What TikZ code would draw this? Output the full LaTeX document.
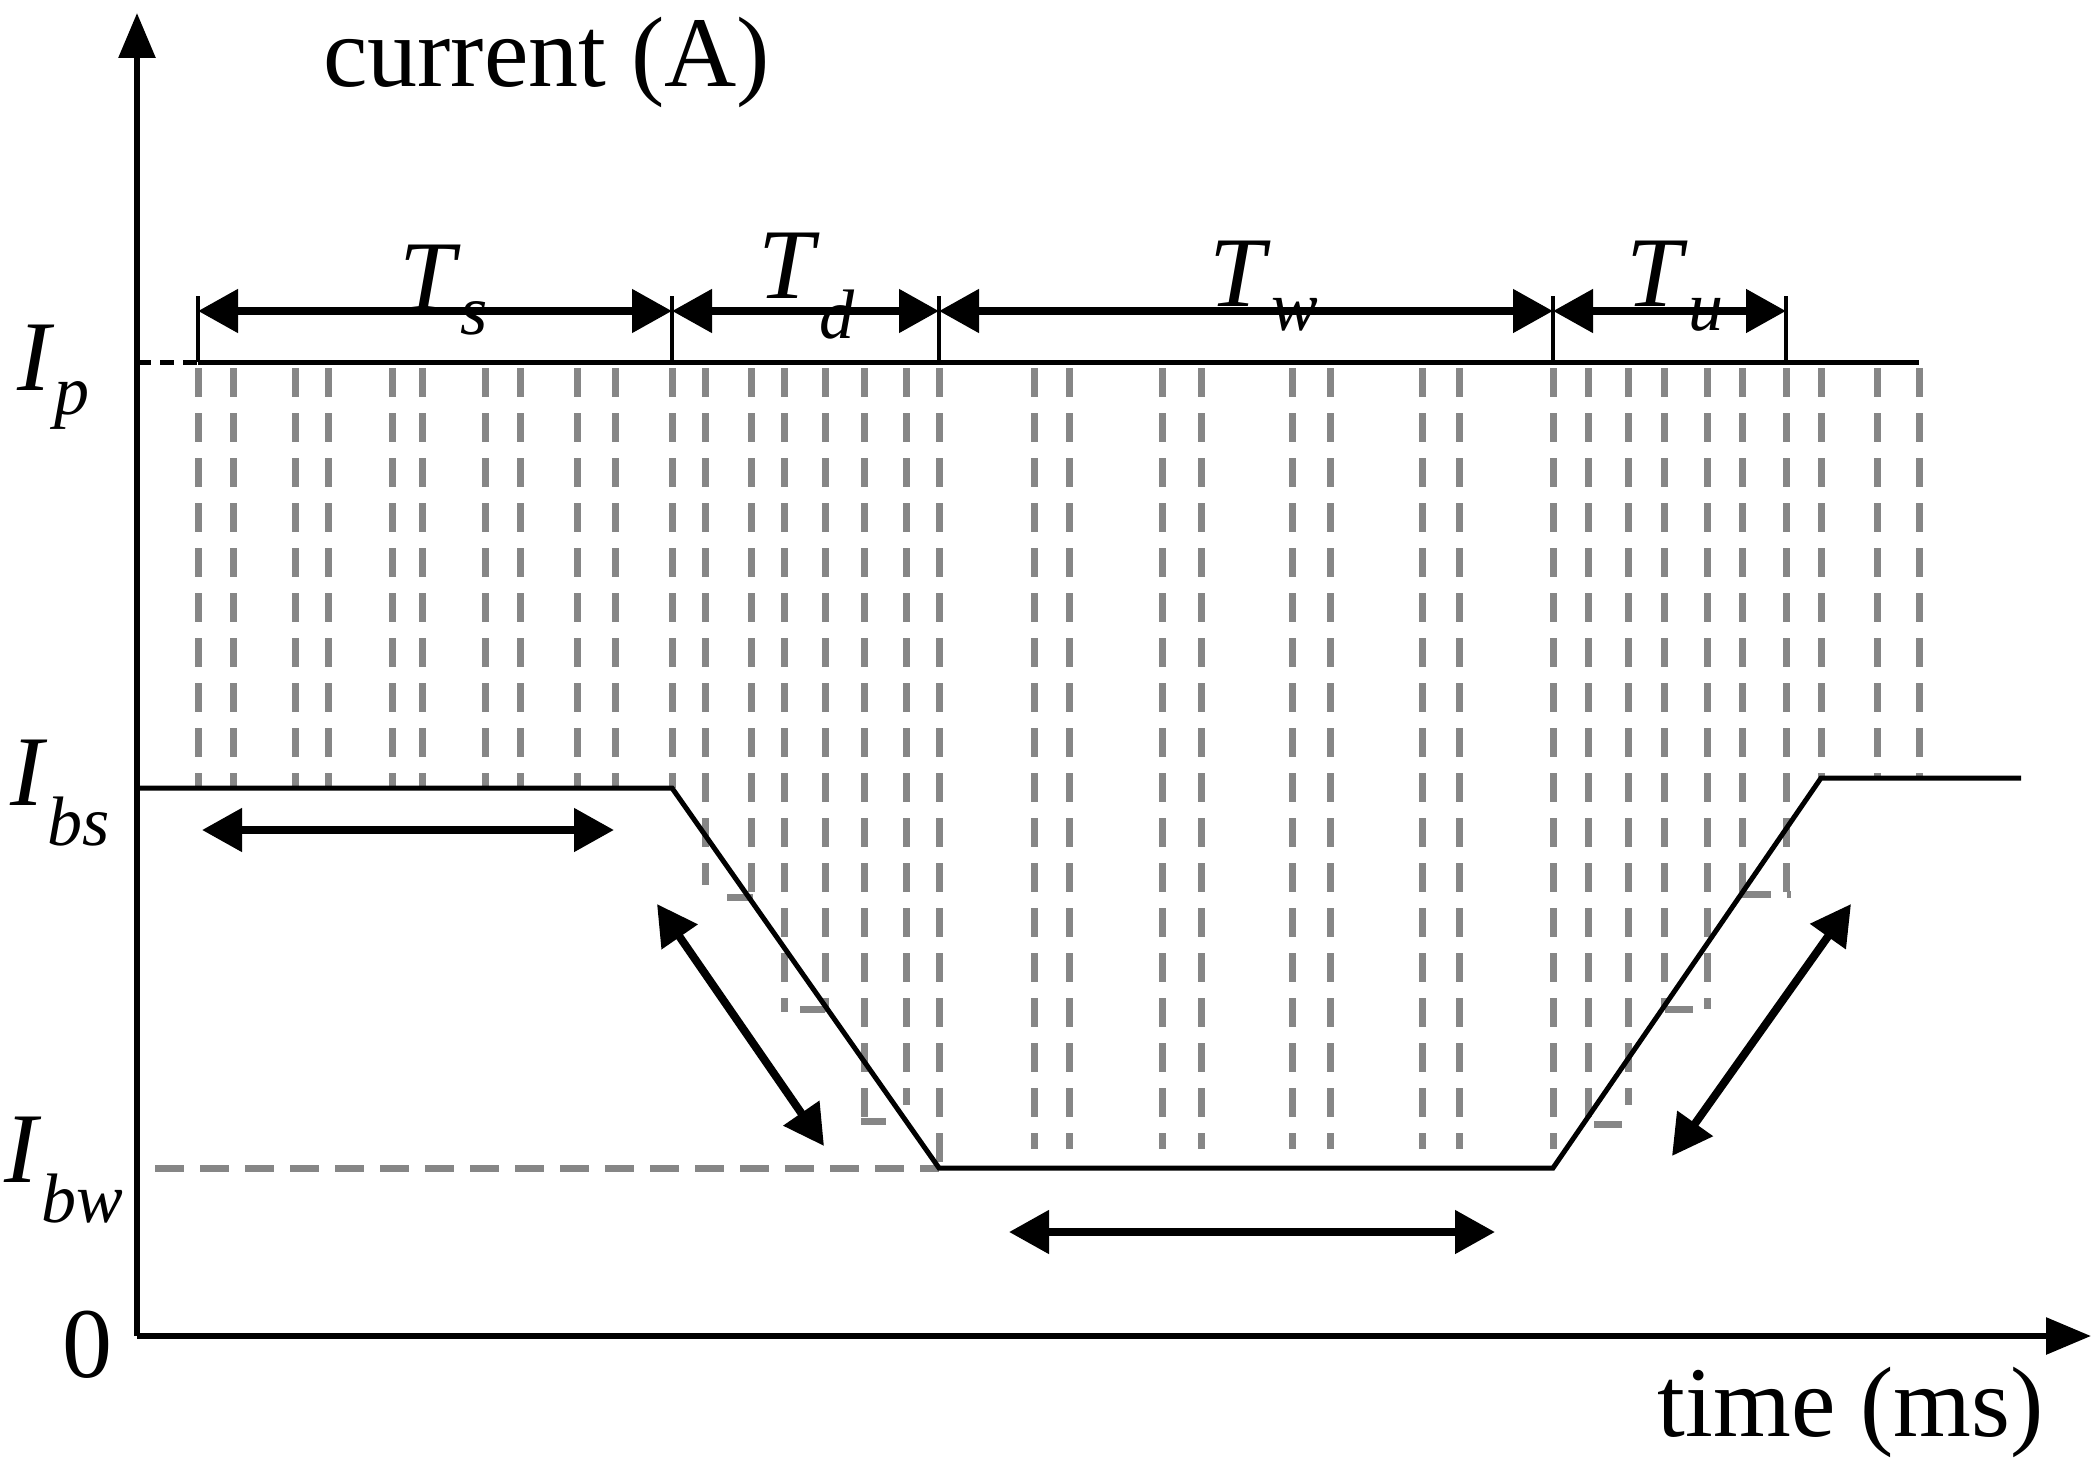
\documentclass[tikz,border=0pt]{standalone}
\usepackage{fontspec}
\setmainfont{Liberation Serif}
\usetikzlibrary{arrows.meta}
\begin{document}
\begin{tikzpicture}[x=1pt,y=-1pt,
  blk/.style={line width=5pt,black},
  gdash/.style={line width=7pt,gray!95,dash pattern=on 29pt off 16pt},
  darr/.style={line width=8pt,{Triangle[length=40pt,width=42pt]}-{Triangle[length=40pt,width=42pt]}},
  lbl/.style={font=\fontsize{100}{110}\selectfont,inner sep=0pt}]
\useasboundingbox (0,0) rectangle (2098,1469);
% axes
\coordinate (O) at (137,1336);
\coordinate (Ytop) at (137,13);
\coordinate (Xend) at (2091,1336);
\draw[line width=6pt,-{Triangle[length=45pt,width=36pt]}] (O) -- (Ytop);
\draw[line width=6pt,-{Triangle[length=45pt,width=36pt]}] (O) -- (Xend);
\node[lbl,anchor=west] (yl) at (323,62) {current (A)};
\node[lbl,anchor=east] (xl) at (2044,1412) {time (ms)};
\node[lbl] (zero) at (87,1345) {0};
\node[lbl] (Ip) at (54,377) {\textit{I}\textsubscript{\textit{p}}};
\node[lbl] (Ibs) at (60,793) {\textit{I}\textsubscript{\textit{bs}}};
\node[lbl] (Ibw) at (64,1170) {\textit{I}\textsubscript{\textit{bw}}};
% grey dashed verticals
\foreach \x/\ye in {198/788,233/788,295/788,328/788,392/788,422/788,485/788,520/788,577/788,615/788,
  672/788,705/885,751/897,784/1012,825/1012,864/1124,906/1105,939/1168,
  1034/1149,1069/1149,1162/1149,1201/1149,1292/1149,1330/1149,1422/1149,1459/1149,
  1553/1149,1588/1124,1628/1105,1664/1009,1707/1009,1742/894,1786/894,1821/780,1877/780,1919/780}
  \draw[gdash] (\x,368) -- (\x,\ye);
\draw[gdash] (727,897) -- (753,897);
\draw[gdash] (800,1009) -- (825,1009);
\draw[gdash] (861,1121) -- (886,1121);
\draw[gdash] (1594,1124) -- (1622,1124);
\draw[gdash] (1665,1009) -- (1693,1009);
\draw[gdash] (1742,894) -- (1791,894);
\draw[gdash] (155,1168) -- (939,1168);
% current waveform
\coordinate (a) at (137,788);
\coordinate (b) at (672,788);
\coordinate (c) at (939,1168);
\coordinate (d) at (1553,1168);
\coordinate (e) at (1821,778);
\coordinate (f) at (2021,778);
\draw[blk,line join=miter] (a) -- (b) -- (c) -- (d) -- (e) -- (f);
\draw[line width=5pt,dash pattern=on 14pt off 9pt] (137,362) -- (198,362);
\draw[blk] (198,362) -- (1919,362);
% interval ticks
\foreach \x in {198,672,939,1553,1786} \draw[line width=4pt] (\x,296) -- (\x,362);
\coordinate (t0) at (198,311); \coordinate (t1) at (672,311);
\coordinate (t2) at (939,311); \coordinate (t3) at (1553,311); \coordinate (t4) at (1786,311);
\draw[darr] (t0) -- (t1);
\draw[darr] (t1) -- (t2);
\draw[darr] (t2) -- (t3);
\draw[darr] (t3) -- (t4);
\node[lbl] (Ts) at (444,290) {\textit{T}\textsubscript{\textit{s}}};
\node[lbl] (Td) at (807,286) {\textit{T}\textsubscript{\textit{d}}};
\node[lbl] (Tw) at (1264,286) {\textit{T}\textsubscript{\textit{w}}};
\node[lbl] (Tu) at (1675,286) {\textit{T}\textsubscript{\textit{u}}};
% phase arrows
\coordinate (s1) at (202,830); \coordinate (s2) at (614,830);
\coordinate (d1) at (657,904); \coordinate (d2) at (824,1146);
\coordinate (w1) at (1009,1232); \coordinate (w2) at (1495,1232);
\coordinate (u1) at (1672,1156); \coordinate (u2) at (1851,904);
\draw[darr] (s1) -- (s2);
\draw[darr] (d1) -- (d2);
\draw[darr] (w1) -- (w2);
\draw[darr] (u1) -- (u2);
\end{tikzpicture}
\end{document}
